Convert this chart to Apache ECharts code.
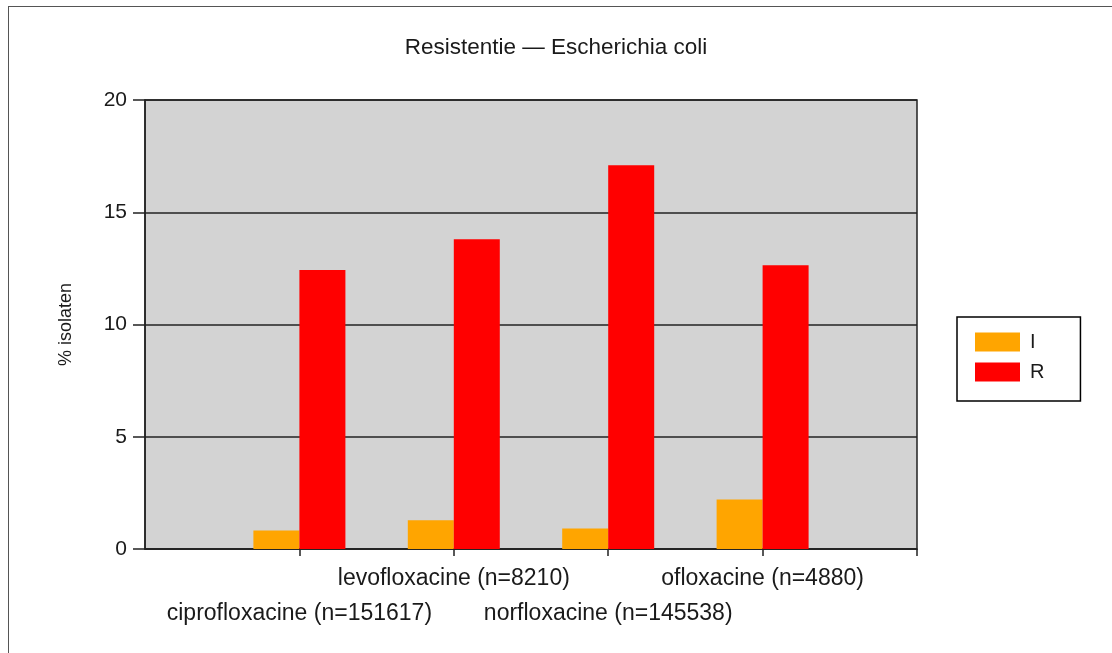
<!DOCTYPE html>
<html>
<head>
<meta charset="utf-8">
<script src="https://cdn.jsdelivr.net/npm/echarts@6/dist/echarts.min.js"></script>
<style>
html,body{margin:0;padding:0;background:#fff;}
#frame{position:absolute;left:8px;top:6px;width:1200px;height:700px;border-left:1.5px solid #555;border-top:1.5px solid #555;}
#chart{position:absolute;left:0;top:0;width:1112px;height:653px;}
</style>
</head>
<body>
<div id="frame"></div>
<div id="chart"></div>
<script>
var titleText = 'Resistentie \u2014 Escherichia coli';
var yAxisName = '% isolaten';
var categories = ['', 'ciprofloxacine (n=151617)', 'levofloxacine (n=8210)', 'norfloxacine (n=145538)', 'ofloxacine (n=4880)', ''];
var seriesNames = ['I', 'R'];
var valuesI = [null, 0.82, 1.28, 0.91, 2.21, null];
var valuesR = [null, 12.43, 13.8, 17.09, 12.64, null];
var yTicks = {min: 0, max: 20, interval: 5};

var font = 'Liberation Sans, Arial, sans-serif';
var chart = echarts.init(document.getElementById('chart'), null, {renderer: 'canvas'});
chart.setOption({
  backgroundColor: 'transparent',
  animation: false,
  title: {
    text: titleText, left: 'center', top: 31,
    textStyle: {fontFamily: font, fontSize: 22.5, fontWeight: 'normal', color: '#1a1a1a'}
  },
  legend: {
    data: seriesNames, orient: 'vertical', left: 957, top: 317,
    itemWidth: 45, itemHeight: 19, itemGap: 10, icon: 'rect',
    padding: [15, 36, 19, 18],
    borderColor: '#000', borderWidth: 1.5,
    textStyle: {fontFamily: font, fontSize: 20, color: '#1a1a1a', padding: [0, 0, 0, 5]}
  },
  grid: {
    left: 145, right: 195, top: 100, bottom: 104,
    show: true, backgroundColor: '#d3d3d3', borderColor: '#222', borderWidth: 1.5
  },
  xAxis: {
    type: 'category', data: categories, boundaryGap: false,
    axisLine: {lineStyle: {color: '#222', width: 1.5}},
    axisTick: {show: true, length: 7, lineStyle: {color: '#222', width: 1.5},
      interval: function (i) { return i > 0; }},
    axisLabel: {
      interval: 0, margin: 12, fontFamily: font, fontSize: 23, color: '#1a1a1a', lineHeight: 35,
      formatter: function (v, i) { return (i % 2 === 1) ? '\n' + v : v; }
    },
    splitLine: {show: false}
  },
  yAxis: {
    type: 'value', min: yTicks.min, max: yTicks.max, interval: yTicks.interval,
    name: yAxisName, nameLocation: 'middle', nameGap: 70, nameRotate: 90,
    nameTextStyle: {fontFamily: font, fontSize: 18, color: '#1a1a1a'},
    axisLine: {show: true, lineStyle: {color: '#222', width: 1.5}},
    axisTick: {show: true, inside: false, length: 12, lineStyle: {color: '#222', width: 1.5}},
    axisLabel: {margin: 18, fontFamily: font, fontSize: 21, color: '#1a1a1a'},
    splitLine: {show: true, lineStyle: {color: '#222', width: 1.5}}
  },
  series: [
    {name: seriesNames[0], type: 'bar', data: valuesI, barWidth: 46, barGap: '0%',
     itemStyle: {color: '#FFA500'}},
    {name: seriesNames[1], type: 'bar', data: valuesR, barWidth: 46, barGap: '0%',
     itemStyle: {color: '#FF0000'}}
  ]
});
</script>
</body>
</html>
